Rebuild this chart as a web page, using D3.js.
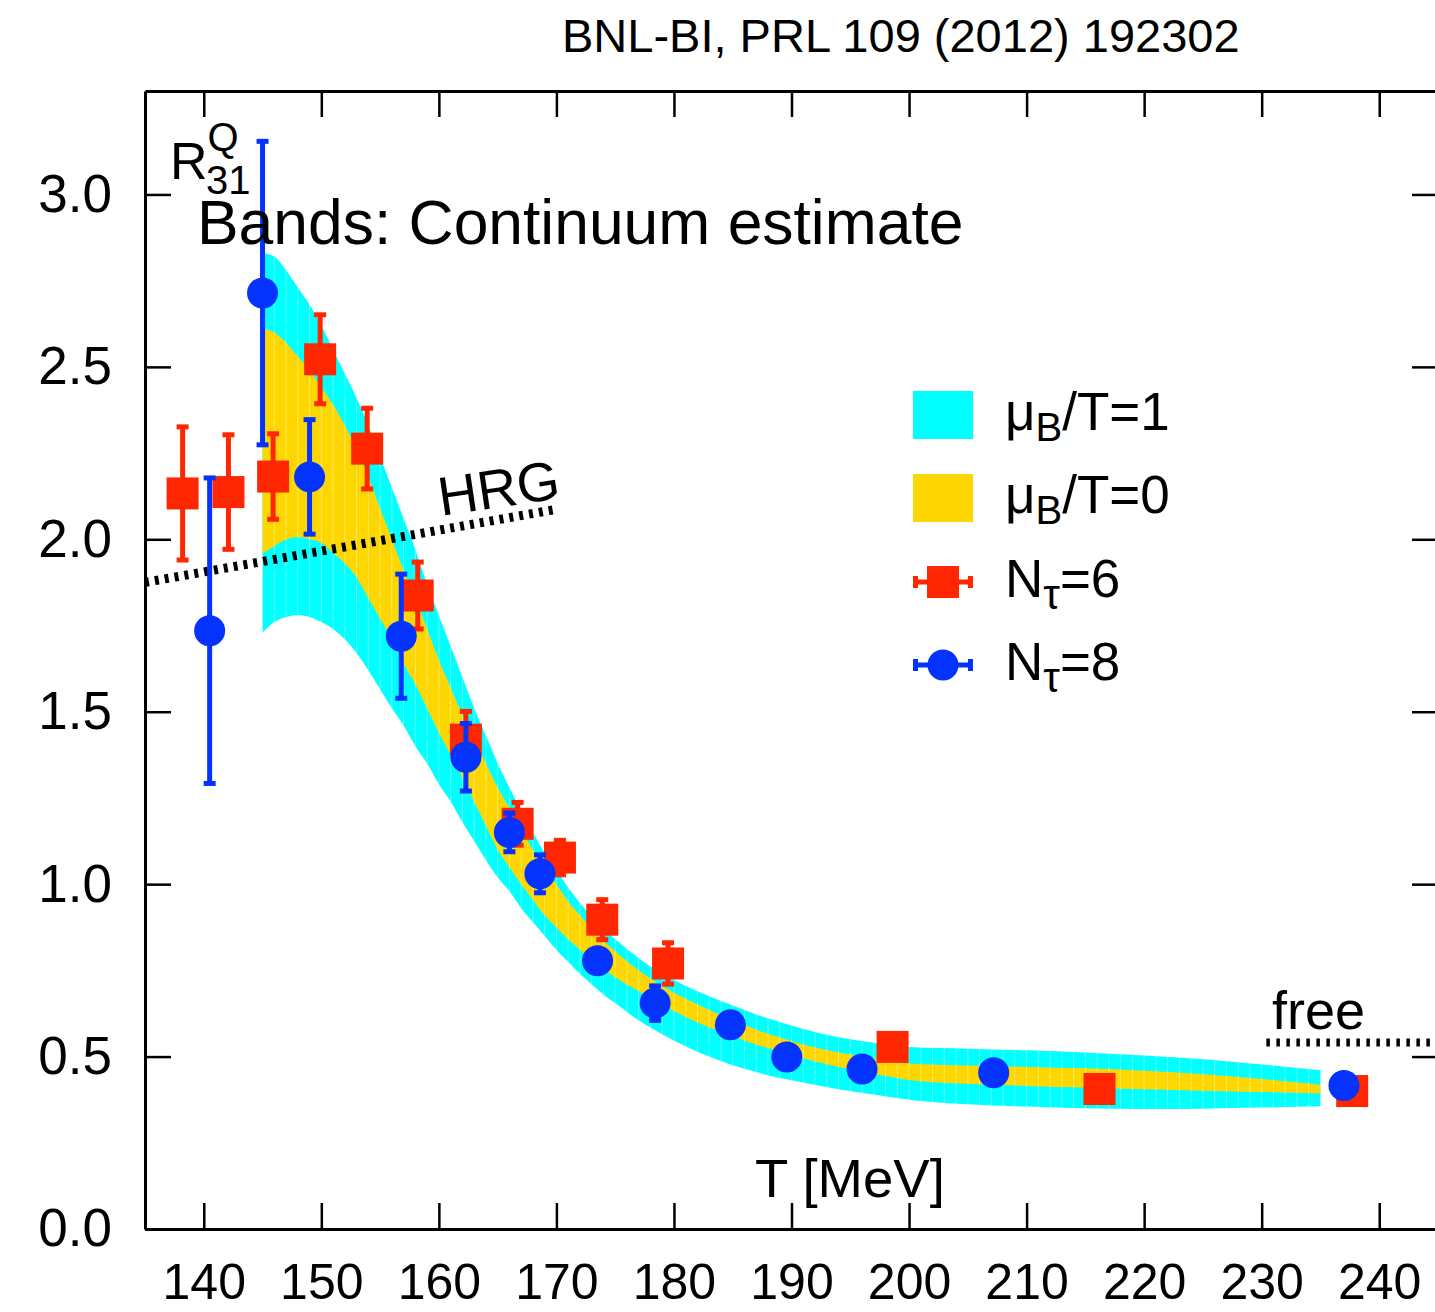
<!DOCTYPE html>
<html>
<head>
<meta charset="utf-8">
<script src="https://cdn.jsdelivr.net/npm/d3@7"></script>
<style>
  html, body { margin: 0; padding: 0; background: #fff; }
  svg { display: block; font-family: "Liberation Sans", Arial, Helvetica, sans-serif; }
</style>
</head>
<body>
<script>
// Temperature grid of the continuum-estimate bands [MeV]
const bandT = [145,146,147,148,149,150,151,152,153,154,155,156,157,158,159,160,161,162,163,164,165,166,167,168,169,170,171,172,173,174,175,177,179,181,183,185,187,189,191,194,197,200,205,210,215,220,225,230,235];
// mu_B/T = 1 band edges
const cyanHi = [2.83,2.82,2.78,2.73,2.68,2.62,2.55,2.48,2.41,2.33,2.24,2.15,2.06,1.97,1.87,1.78,1.69,1.60,1.51,1.43,1.35,1.28,1.21,1.15,1.09,1.04,0.99,0.945,0.905,0.87,0.84,0.785,0.74,0.705,0.675,0.648,0.622,0.600,0.580,0.556,0.540,0.528,0.523,0.518,0.512,0.503,0.492,0.477,0.460];
const cyanLo = [1.73,1.76,1.775,1.78,1.775,1.76,1.74,1.71,1.67,1.62,1.565,1.51,1.46,1.40,1.35,1.29,1.24,1.18,1.125,1.07,1.02,0.98,0.93,0.89,0.85,0.81,0.775,0.74,0.71,0.68,0.655,0.605,0.565,0.53,0.50,0.475,0.455,0.438,0.425,0.405,0.39,0.375,0.362,0.355,0.35,0.348,0.349,0.352,0.356];
// mu_B/T = 0 band edges
const goldHi = [2.61,2.60,2.57,2.53,2.49,2.44,2.39,2.33,2.26,2.18,2.09,2.00,1.91,1.83,1.74,1.65,1.57,1.49,1.42,1.35,1.28,1.22,1.16,1.10,1.05,1.00,0.95,0.91,0.87,0.835,0.805,0.75,0.705,0.668,0.635,0.605,0.578,0.555,0.535,0.512,0.495,0.480,0.474,0.470,0.466,0.459,0.449,0.435,0.418];
const goldLo = [1.96,1.98,2.00,2.007,2.00,1.99,1.96,1.93,1.89,1.83,1.77,1.71,1.64,1.58,1.51,1.44,1.375,1.31,1.24,1.17,1.10,1.05,1.00,0.955,0.91,0.875,0.84,0.81,0.78,0.755,0.73,0.69,0.65,0.615,0.585,0.56,0.535,0.515,0.495,0.47,0.45,0.432,0.421,0.415,0.41,0.405,0.401,0.397,0.393];

// Lattice data, N_tau = 6
const nt6T   = [138.2,142.1,145.9,149.9,153.9,158.2,162.3,166.7,170.3,173.9,179.5,198.6,216.2,237.7];
const nt6V   = [2.133,2.137,2.182,2.522,2.263,1.837,1.419,1.175,1.077,0.897,0.770,0.528,0.406,0.400];
const nt6Err = [0.193,0.166,0.124,0.129,0.117,0.097,0.082,0.062,0.050,0.058,0.060,0.020,0.020,0.020];
// Lattice data, N_tau = 8
const nt8T   = [140.5,145.0,149.0,156.8,162.3,166.0,168.6,173.5,178.4,184.8,189.6,196.0,207.2,237.0];
const nt8V   = [1.735,2.714,2.181,1.719,1.368,1.150,1.030,0.778,0.655,0.592,0.499,0.464,0.453,0.416];
const nt8Err = [0.443,0.440,0.166,0.180,0.098,0.056,0.055,0.030,0.050,0.020,0.020,0.020,0.020,0.020];

// Reference limits
const hrgT = [135, 170];
const hrgV = [1.875, 2.087];
const freeT = [230.4, 245];
const freeV = [0.541, 0.541];

// Tick values
const xTicks = [140,150,160,170,180,190,200,210,220,230,240];
const yTicks = [0,0.5,1.0,1.5,2.0,2.5,3.0];

const legendItems = ["cyan", "gold", "nt6", "nt8"];

const W = 1435, H = 1312;
const colors = { cyan: "#00ffff", gold: "#ffd700", red: "#ff2600", blue: "#0433ff" };

const svg = d3.select("body").append("svg").attr("width", W).attr("height", H);

const x = d3.scaleLinear().domain([135, 245]).range([145, 1438]);
const y = d3.scaleLinear().domain([0, 3.3]).range([1229, 91]);

// ---- bands ----
const bandRows = bandT.map((t, i) => ({ t, ch: cyanHi[i], cl: cyanLo[i], gh: goldHi[i], gl: goldLo[i] }));
const cyanArea = d3.area().x(d => x(d.t)).y0(d => y(d.cl)).y1(d => y(d.ch)).curve(d3.curveMonotoneX);
const goldArea = d3.area().x(d => x(d.t)).y0(d => y(d.gl)).y1(d => y(d.gh)).curve(d3.curveMonotoneX);

svg.append("clipPath").attr("id", "bandClip").append("path").attr("d", cyanArea(bandRows));

svg.append("path").attr("d", cyanArea(bandRows)).attr("fill", colors.cyan);
svg.append("path").attr("d", goldArea(bandRows)).attr("fill", colors.gold);

// faint seams between the band's vertical strips
svg.append("g").attr("clip-path", "url(#bandClip)")
  .selectAll("line").data(d3.range(146, 236, 1)).join("line")
  .attr("x1", d => x(d)).attr("x2", d => x(d))
  .attr("y1", y(3)).attr("y2", y(0.2))
  .attr("stroke", "#ffffff").attr("stroke-opacity", 0.35).attr("stroke-width", 1);

// ---- HRG and free limits ----
const lim = d3.line().x(d => x(d[0])).y(d => y(d[1]));
svg.append("path").attr("d", lim(d3.zip(hrgT, hrgV)))
  .attr("fill", "none").attr("stroke", "#000").attr("stroke-width", 9).attr("stroke-dasharray", "4,6");
svg.append("path").attr("d", lim(d3.zip(freeT, freeV)))
  .attr("fill", "none").attr("stroke", "#000").attr("stroke-width", 8).attr("stroke-dasharray", "3.5,6.5");

// ---- data points ----
function errorBars(T, V, E, color) {
  const g = svg.append("g").attr("fill", color).attr("stroke", color);
  const rows = T.map((t, i) => ({ t, v: V[i], e: E[i] }));
  g.selectAll("line").data(rows).join("line")
    .attr("x1", d => x(d.t)).attr("x2", d => x(d.t))
    .attr("y1", d => y(d.v + d.e)).attr("y2", d => y(d.v - d.e))
    .attr("stroke-width", 5);
  g.selectAll("rect.top").data(rows).join("rect").attr("class", "top")
    .attr("x", d => x(d.t) - 6).attr("y", d => y(d.v + d.e) - 2.5)
    .attr("width", 12).attr("height", 5).attr("stroke", "none");
  g.selectAll("rect.bot").data(rows).join("rect").attr("class", "bot")
    .attr("x", d => x(d.t) - 6).attr("y", d => y(d.v - d.e) - 2.5)
    .attr("width", 12).attr("height", 5).attr("stroke", "none");
  return rows;
}

const red = errorBars(nt6T, nt6V, nt6Err, colors.red);
svg.append("g").selectAll("rect").data(red).join("rect")
  .attr("x", d => x(d.t) - 16).attr("y", d => y(d.v) - 16)
  .attr("width", 32).attr("height", 32).attr("fill", colors.red);

const blue = errorBars(nt8T, nt8V, nt8Err, colors.blue);
svg.append("g").selectAll("circle").data(blue).join("circle")
  .attr("cx", d => x(d.t)).attr("cy", d => y(d.v)).attr("r", 15.5).attr("fill", colors.blue);

// ---- axes (ticks pointing inward on all four sides) ----
const font = "Liberation Sans, Arial, Helvetica, sans-serif";
function styleAxis(g, size) {
  g.select(".domain").attr("stroke", "#000").attr("stroke-width", 3);
  g.selectAll(".tick line").attr("stroke", "#000").attr("stroke-width", 2.5);
  g.selectAll(".tick text").attr("fill", "#000").attr("font-size", size || 50).attr("font-family", font);
}
svg.append("g").attr("transform", `translate(0,${y(0)})`)
  .call(d3.axisBottom(x).tickValues(xTicks).tickSizeInner(-26).tickSizeOuter(0).tickPadding(34).tickFormat(d3.format("d")))
  .call(styleAxis, 50);
svg.append("g").attr("transform", `translate(0,${y(3.3)})`)
  .call(d3.axisTop(x).tickValues(xTicks).tickSizeInner(-26).tickSizeOuter(0).tickFormat(""))
  .call(styleAxis);
svg.append("g").attr("transform", `translate(${x(135)},0)`)
  .call(d3.axisLeft(y).tickValues(yTicks).tickSizeInner(-26).tickSizeOuter(0).tickPadding(33).tickFormat(d3.format(".1f")))
  .call(styleAxis, 53);
svg.append("g").attr("transform", `translate(${x(245)},0)`)
  .call(d3.axisRight(y).tickValues(yTicks).tickSizeInner(-26).tickSizeOuter(0).tickFormat(""))
  .call(styleAxis);

// ---- texts ----
const txt = (xx, yy, s, size) => svg.append("text").attr("x", xx).attr("y", yy)
  .attr("font-size", size).attr("fill", "#000").attr("font-family", font).text(s);

txt(562, 52, "BNL-BI, PRL 109 (2012) 192302", 47);

// R_31^Q as one text with a superscript and a subscript
const rq = svg.append("text").attr("x", 170).attr("y", 179)
  .attr("font-size", 52).attr("fill", "#000").attr("font-family", font);
rq.append("tspan").text("R");
rq.append("tspan").attr("dy", -28).attr("font-size", 40).text("Q");
rq.append("tspan").attr("x", 206).attr("dy", 43).attr("font-size", 40).text("31");

txt(197, 244, "Bands: Continuum estimate", 62.4);
txt(755, 1197, "T [MeV]", 54.5);
txt(1272, 1029, "free", 54);
txt(0, 0, "HRG", 55).attr("transform", "translate(441,516) rotate(-8.5)");

// ---- legend ----
const lx = 913, lw = 60, rowY = [415, 498, 582, 665];
const lg = svg.append("g");
legendItems.forEach((k, i) => {
  const cy = rowY[i];
  if (k === "cyan" || k === "gold") {
    lg.append("rect").attr("x", lx).attr("y", cy - 24).attr("width", lw).attr("height", 48)
      .attr("fill", k === "cyan" ? colors.cyan : colors.gold);
  } else {
    const c = k === "nt6" ? colors.red : colors.blue;
    lg.append("line").attr("x1", lx).attr("x2", lx + lw).attr("y1", cy).attr("y2", cy)
      .attr("stroke", c).attr("stroke-width", 5);
    lg.append("rect").attr("x", lx).attr("y", cy - 6).attr("width", 5).attr("height", 12).attr("fill", c);
    lg.append("rect").attr("x", lx + lw - 5).attr("y", cy - 6).attr("width", 5).attr("height", 12).attr("fill", c);
    if (k === "nt6") {
      lg.append("rect").attr("x", lx + lw / 2 - 16).attr("y", cy - 16).attr("width", 32).attr("height", 32).attr("fill", c);
    } else {
      lg.append("circle").attr("cx", lx + lw / 2).attr("cy", cy).attr("r", 15.5).attr("fill", c);
    }
  }
  const t = lg.append("text").attr("x", 1005).attr("y", cy + 15)
    .attr("font-size", 53).attr("font-family", font).attr("fill", "#000");
  if (i < 2) {
    t.append("tspan").text("μ");
    t.append("tspan").attr("dy", 11).attr("font-size", 40).text("B");
    t.append("tspan").attr("dy", -11).text(i === 0 ? "/T=1" : "/T=0");
  } else {
    t.append("tspan").text("N");
    t.append("tspan").attr("dy", 12).attr("font-size", 42).text("τ");
    t.append("tspan").attr("dy", -12).text(i === 2 ? "=6" : "=8");
  }
});
</script>
</body>
</html>
